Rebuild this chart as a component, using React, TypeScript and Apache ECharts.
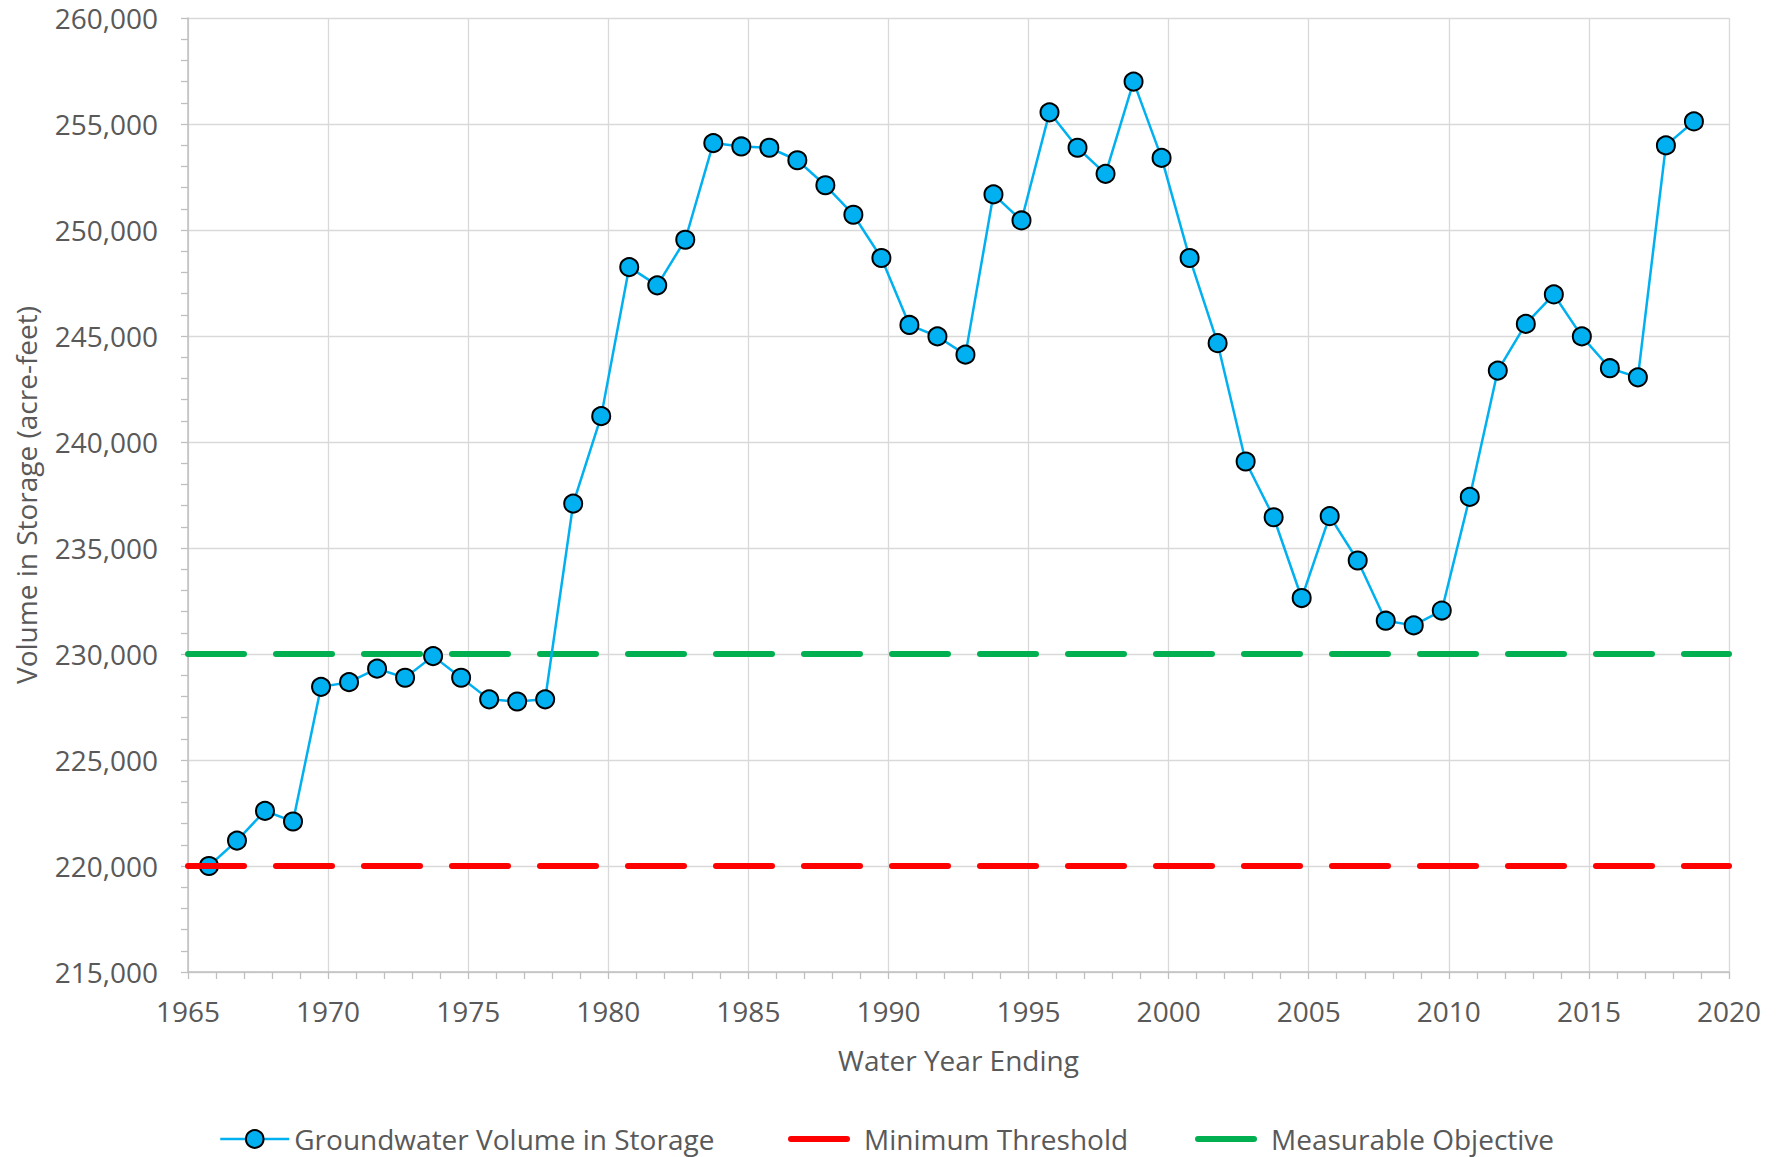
import React, { useEffect, useRef } from "react";
import * as echarts from "echarts";

// Water years (point plotted at the end of each water year, Sept 30)
const years = [
  1965, 1966, 1967, 1968, 1969, 1970, 1971, 1972, 1973, 1974,
  1975, 1976, 1977, 1978, 1979, 1980, 1981, 1982, 1983, 1984,
  1985, 1986, 1987, 1988, 1989, 1990, 1991, 1992, 1993, 1994,
  1995, 1996, 1997, 1998, 1999, 2000, 2001, 2002, 2003, 2004,
  2005, 2006, 2007, 2008, 2009, 2010, 2011, 2012, 2013, 2014,
  2015, 2016, 2017, 2018,
];

// Groundwater volume in storage (acre-feet)
const storage = [
  220000, 221200, 222600, 222100, 228450, 228670, 229310, 228880, 229900, 228880,
  227860, 227760, 227860, 237090, 241220, 248250, 247390, 249540, 254100, 253940,
  253880, 253290, 252110, 250720, 248680, 245520, 244980, 244120, 251680, 250450,
  255550, 253880, 252650, 257000, 253400, 248680, 244660, 239080, 236450, 232640,
  236500, 234410, 231570, 231350, 232050, 237410, 243370, 245570, 246960, 244980,
  243480, 243050, 253990, 255120,
];

const minimumThreshold = 220000;
const measurableObjective = 230000;

const xMin = 1965;
const xMax = 2020;
const yMin = 215000;
const yMax = 260000;

const seriesNames = [
  "Groundwater Volume in Storage",
  "Minimum Threshold",
  "Measurable Objective",
];

const FONT = "'Open Sans', 'Noto Sans', sans-serif";
const TEXT = "#595959";
const AXIS = "#BFBFBF";
const GRID = "#D9D9D9";
const FS = 28;

// Sept 30 as fraction of a year
const waterYearEnd = 273 / 365;

export default function App() {
  const ref = useRef<HTMLDivElement>(null);

  useEffect(() => {
    document.body.style.margin = "0";
    if (!ref.current) return;
    const chart = echarts.init(ref.current, undefined, { renderer: "svg" });

    const axisCommon = {
      axisLine: { show: true, lineStyle: { color: AXIS, width: 1.5 } },
      axisTick: { show: true, length: 7, lineStyle: { color: AXIS, width: 1.3 } },
      minorTick: { show: true, splitNumber: 5, length: 7, lineStyle: { color: AXIS, width: 1.3 } },
      splitLine: { show: true, lineStyle: { color: GRID, width: 1.3 } },
      minorSplitLine: { show: false },
      nameLocation: "middle" as const,
      nameTextStyle: { fontSize: FS, color: TEXT, fontFamily: FONT },
    };

    const legendCommon = {
      top: 1120,
      textStyle: { fontSize: FS, color: TEXT, fontFamily: FONT },
      selectedMode: false,
    };

    const dashedLegend = {
      ...legendCommon,
      itemWidth: 68,
      itemHeight: 22,
      itemStyle: { opacity: 0 },
      lineStyle: { width: 6, type: [56, 32], cap: "round" },
    };

    chart.setOption({
      animation: false,
      backgroundColor: "#ffffff",
      grid: { left: 188, right: 53, top: 18, bottom: 185, containLabel: false },
      xAxis: {
        type: "value",
        min: xMin,
        max: xMax,
        interval: 5,
        ...axisCommon,
        name: "Water Year Ending",
        nameGap: 74,
        axisLabel: {
          fontSize: FS,
          color: TEXT,
          fontFamily: FONT,
          margin: 25,
          formatter: (v: number) => String(v),
        },
      },
      yAxis: {
        type: "value",
        min: yMin,
        max: yMax,
        interval: 5000,
        ...axisCommon,
        name: "Volume in Storage (acre-feet)",
        nameGap: 148,
        axisLabel: {
          fontSize: FS,
          color: TEXT,
          fontFamily: FONT,
          margin: 30,
          formatter: (v: number) => v.toLocaleString("en-US"),
        },
      },
      legend: [
        {
          ...legendCommon,
          data: [seriesNames[0]],
          left: 214,
          itemWidth: 69,
          itemHeight: 22,
          lineStyle: { width: 2.5 },
        },
        { ...dashedLegend, data: [seriesNames[1]], left: 783 },
        { ...dashedLegend, data: [seriesNames[2]], left: 1190 },
      ],
      series: [
        {
          name: seriesNames[2],
          type: "line",
          color: "#00B050",
          data: [
            [xMin, measurableObjective],
            [xMax, measurableObjective],
          ],
          symbol: "none",
          clip: false,
          z: 2,
          lineStyle: { color: "#00B050", width: 6, type: [56, 32], cap: "round" },
        },
        {
          name: seriesNames[0],
          type: "line",
          color: "#00B0F0",
          data: years.map((y, i) => [y + waterYearEnd, storage[i]]),
          symbol: "circle",
          symbolSize: 18,
          clip: false,
          z: 3,
          lineStyle: { color: "#00B0F0", width: 2.5 },
          itemStyle: { color: "#00B0F0", borderColor: "#000000", borderWidth: 2 },
        },
        {
          name: seriesNames[1],
          type: "line",
          color: "#FF0000",
          data: [
            [xMin, minimumThreshold],
            [xMax, minimumThreshold],
          ],
          symbol: "none",
          clip: false,
          z: 4,
          lineStyle: { color: "#FF0000", width: 6, type: [56, 32], cap: "round" },
        },
      ],
    });

    return () => chart.dispose();
  }, []);

  return <div ref={ref} style={{ width: 1782, height: 1157 }} />;
}
